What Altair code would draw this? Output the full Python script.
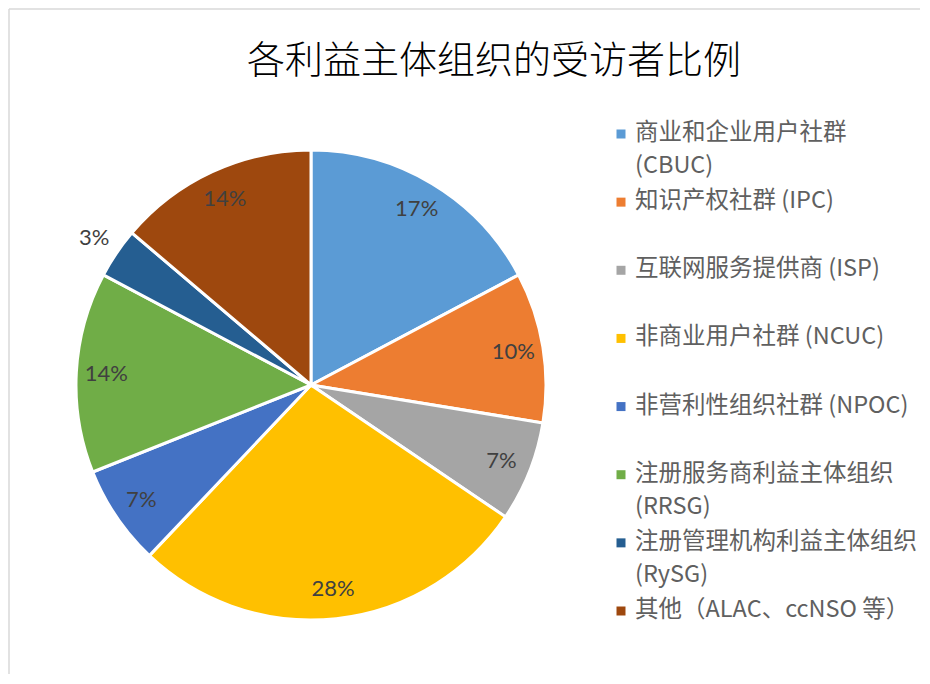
import altair as alt
import pandas as pd

title_text = "各利益主体组织的受访者比例"
categories = [
    "商业和企业用户社群\n(CBUC)",
    "知识产权社群 (IPC)",
    "互联网服务提供商 (ISP)",
    "非商业用户社群 (NCUC)",
    "非营利性组织社群 (NPOC)",
    "注册服务商利益主体组织\n(RRSG)",
    "注册管理机构利益主体组织\n(RySG)",
    "其他（ALAC、ccNSO 等）",
]
counts = [5, 3, 2, 8, 2, 4, 1, 4]
colors = ["#5B9BD5", "#ED7D31", "#A5A5A5", "#FFC000", "#4472C4", "#70AD47", "#255E91", "#9E480E"]

df = pd.DataFrame({"cat": categories, "count": counts, "order": list(range(len(categories)))})
title_df = pd.DataFrame({"title": [title_text]})
color_scale = alt.Scale(domain=categories, range=colors)

base = alt.Chart(df).transform_joinaggregate(total="sum(count)").transform_calculate(
    pct="round(datum.count / datum.total * 100) + '%'",
)

arcs = base.mark_arc(outerRadius=235, stroke="white", strokeWidth=3).encode(
    theta=alt.Theta("count:Q", stack=True),
    color=alt.Color("cat:N", scale=color_scale, legend=None),
    order=alt.Order("order:Q"),
)
labels = base.mark_text(
    font="Lato", fontSize=22, color="#404040",
    radius=alt.expr("datum.count / datum.total < 0.05 ? 262 : 205"),
).encode(
    theta=alt.Theta("count:Q", stack=True),
    text="pct:N",
    order=alt.Order("order:Q"),
)
# chart-area frame (light grey), like the Office chart border
frame_v = alt.Chart(title_df).mark_rule(color="#D9D9D9", strokeWidth=1.5).encode(
    x=alt.value(-62), y=alt.value(-136), y2=alt.value(529)
)
frame_h = alt.Chart(title_df).mark_rule(color="#D9D9D9", strokeWidth=1.5).encode(
    x=alt.value(-62), x2=alt.value(849), y=alt.value(-136)
)
title = alt.Chart(title_df).mark_text(
    font="Noto Sans CJK SC", fontSize=38, fontWeight=300, color="#000000",
    align="center", baseline="middle",
).encode(text="title:N", x=alt.value(423), y=alt.value(-83))

pie = alt.layer(frame_v, frame_h, title, arcs, labels).properties(width=480, height=480)

yenc = alt.Y("cat:N", sort=categories,
             scale=alt.Scale(domain=categories, range=[-11, 466], padding=0), axis=None)
squares = alt.Chart(df).mark_square(size=81, opacity=1).encode(
    y=yenc, x=alt.value(20),
    color=alt.Color("cat:N", scale=color_scale, legend=None),
)
texts = alt.Chart(df).mark_text(
    align="left", baseline="top", dy=-13, lineBreak="\n", lineHeight=33,
    font="Noto Sans CJK SC", fontSize=23.5, color="#606060",
).encode(y=yenc, x=alt.value(34), text="cat:N")
legend = alt.layer(squares, texts).properties(width=280, height=480)

chart = alt.hconcat(pie, legend, spacing=50, bounds="flush").properties(
    padding=0,
).configure_view(stroke=None)

chart.save("out.html", embed_options={"renderer": "svg", "actions": False})
